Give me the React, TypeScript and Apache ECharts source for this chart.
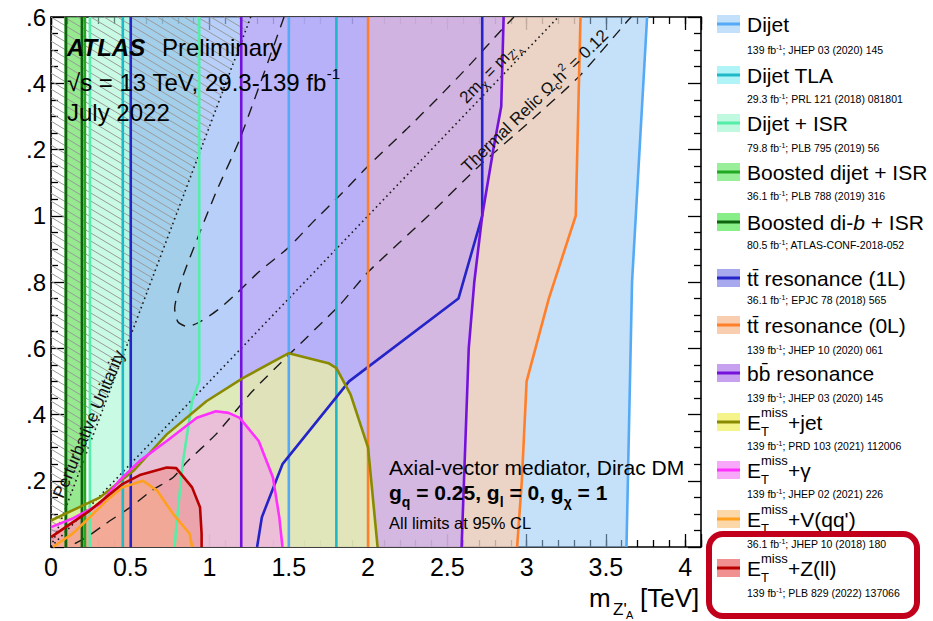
import React, { useEffect, useRef } from 'react';
import * as echarts from 'echarts';

const FONT = '"Liberation Sans", Arial, Helvetica, sans-serif';

// ---------- axes ----------
const X_MIN = 0, X_MAX = 4.1, Y_MIN = 0, Y_MAX = 1.6;
const X_MAJOR = 0.5, X_MINOR = 0.1, Y_MAJOR = 0.2;
const xTickLabels = ['0', '0.5', '1', '1.5', '2', '2.5', '3', '3.5', '4'];
// y labels as they appear (left part cropped in the original picture)
const yTickLabels = ['', '.2', '.4', '.6', '.8', '1', '.2', '.4', '.6'];

// ---------- exclusion regions (m_Z' [TeV], m_chi [TeV]) ----------
const dijetRegion = [[1.5, 0], [1.5, 1.6], [3.76, 1.6], [3.665, 0.8], [3.63, 0]];
const dijetTlaRegion = [[0.453, 0], [0.453, 1.6], [1.8, 1.6], [1.8, 0]];
const dijetIsrRegion = [[0.245, 0], [0.245, 1.6], [0.935, 1.6], [0.935, 0.5], [0.89, 0.44], [0.83, 0.25], [0.79, 0.06], [0.78, 0]];
const boostedDijetRegion = [[0.094, 0], [0.094, 1.6], [0.214, 1.6], [0.214, 0]];
const boostedDibRegion = [[0.094, 0], [0.094, 1.6], [0.195, 1.6], [0.195, 0]];
const tt1LRegion = [[0.503, 0], [0.503, 1.6], [2.72, 1.6], [2.72, 1.0], [2.57, 0.75], [1.88, 0.5], [1.46, 0.25], [1.33, 0.09], [1.3, 0]];
const tt0LRegion = [[2.0, 0], [2.0, 1.6], [3.34, 1.6], [3.31, 1.0], [3.14, 0.75], [3.0, 0.5], [2.97, 0.2], [2.94, 0]];
const bbRegion = [[1.2, 0], [1.2, 1.6], [2.855, 1.6], [2.84, 1.33], [2.79, 1.2], [2.72, 1.0], [2.67, 0.8], [2.635, 0.6], [2.62, 0.4], [2.59, 0]];
const etmissJetRegion = [[0, 0.08], [0.31, 0.15], [0.52, 0.23], [0.73, 0.34], [0.98, 0.44], [1.21, 0.51], [1.5, 0.585], [1.75, 0.555], [1.8, 0.54], [1.89, 0.46], [2.0, 0.3], [2.06, 0]];
const etmissGammaRegion = [[0, 0.06], [0.14, 0.087], [0.31, 0.13], [0.43, 0.2], [0.56, 0.26], [0.73, 0.32], [0.92, 0.39], [1.04, 0.41], [1.12, 0.405], [1.19, 0.39], [1.31, 0.32], [1.4, 0.21], [1.44, 0.09], [1.46, 0]];
const etmissVqqRegion = [[0.013, 0], [0.14, 0.042], [0.245, 0.09], [0.35, 0.14], [0.45, 0.18], [0.58, 0.2], [0.67, 0.17], [0.77, 0.1], [0.875, 0.04], [0.89, 0]];
const etmissZllRegion = [[0, 0.03], [0.245, 0.11], [0.45, 0.19], [0.56, 0.217], [0.73, 0.24], [0.79, 0.238], [0.89, 0.18], [0.94, 0.12], [0.95, 0.04], [0.95, 0]];

// ---------- reference curves ----------
const relicUpper = [[1.47, 1.6], [1.19, 1.23], [1.04, 1.07], [0.83, 0.815], [0.78, 0.72], [0.8, 0.68], [0.86, 0.665], [0.94, 0.68], [1.05, 0.715], [1.17, 0.765], [1.31, 0.83], [1.5, 0.905], [1.65, 0.98], [1.84, 1.07], [2.0, 1.15], [2.24, 1.26], [2.45, 1.36], [2.65, 1.46], [2.84, 1.56], [2.92, 1.6]];
const relicLower = [[0.15, 0.01], [0.226, 0.03], [0.35, 0.072], [0.5, 0.12], [0.635, 0.17], [0.77, 0.21], [0.855, 0.256], [1.04, 0.34], [1.27, 0.47], [1.5, 0.58], [1.82, 0.73], [2.0, 0.83], [2.38, 1.0], [2.7, 1.15], [3.01, 1.28], [3.33, 1.42], [3.64, 1.59], [3.66, 1.6]];
const kinematicLine = [[0, 0], [3.2, 1.6]];
const unitarityLine = [[0, 0], [1.26, 1.6]];

// ---------- legend ----------
const legendNames = ['Dijet', 'Dijet TLA', 'Dijet + ISR', 'Boosted dijet + ISR', 'Boosted di-{it|b} + ISR', 'tt\u0304 resonance (1L)', 'tt\u0304 resonance (0L)', 'bb\u0304 resonance', 'E_T^miss+jet', 'E_T^miss+\u03b3', "E_T^miss+V(qq')", 'E_T^miss+Z(ll)'];
const legendLumi = ['139', '29.3', '79.8', '36.1', '80.5', '36.1', '139', '139', '139', '139', '36.1', '139'];
const legendRefs = ['JHEP 03 (2020) 145', 'PRL 121 (2018) 081801', 'PLB 795 (2019) 56', 'PLB 788 (2019) 316', 'ATLAS-CONF-2018-052', 'EPJC 78 (2018) 565', 'JHEP 10 (2020) 061', 'JHEP 03 (2020) 145', 'PRD 103 (2021) 112006', 'JHEP 02 (2021) 226', 'JHEP 10 (2018) 180', 'PLB 829 (2022) 137066'];
const regions = [dijetRegion, dijetTlaRegion, dijetIsrRegion, boostedDijetRegion, boostedDibRegion, tt1LRegion, tt0LRegion, bbRegion, etmissJetRegion, etmissGammaRegion, etmissVqqRegion, etmissZllRegion];
const lineColors = ['#55aaf5', '#1fb8c8', '#55eea8', '#22a822', '#0d640d', '#2424c8', '#ff7f2a', '#7412dc', '#8a8a00', '#ff30ff', '#ffa01e', '#b80000'];
const fillColors = [
  'rgba(150,200,245,0.55)', 'rgba(170,235,250,0.5)', 'rgba(155,246,206,0.55)', 'rgba(110,225,100,0.6)',
  'rgba(110,225,100,0.3)', 'rgba(140,150,245,0.4)', 'rgba(255,205,170,0.65)', 'rgba(195,160,248,0.55)',
  'rgba(240,245,160,0.7)', 'rgba(245,150,245,0.5)', 'rgba(255,205,140,0.5)', 'rgba(240,130,120,0.45)',
];
const swatchColors = ['#c2e0fa', '#b0f4f8', '#c0f8e0', '#99ee99', '#88ee88', '#a8a8ee', '#f8cdb0', '#c8a0f0', '#f4f48a', '#f8a8f8', '#fcd8a8', '#f09090'];

// layout constants (pixels)
const LEG_Y = [24, 75, 123, 172, 222, 278, 325, 373, 422, 470, 519, 568];
const LEG_SUB_Y = [50, 99, 148, 196, 245, 300, 350, 398, 446, 494, 544, 593];

function splitEdges(pts: number[][]) {
  const out: number[][][] = [];
  let cur = [pts[0]];
  for (let i = 1; i < pts.length; i++) {
    const a = pts[i - 1], b = pts[i];
    const onFrame = (a[1] === Y_MAX && b[1] === Y_MAX) || (a[1] === Y_MIN && b[1] === Y_MIN) || (a[0] === X_MIN && b[0] === X_MIN);
    if (onFrame) {
      if (cur.length > 1) out.push(cur);
      cur = [b];
    } else cur.push(b);
  }
  if (cur.length > 1) out.push(cur);
  return out;
}

const txt = (text: string, x: number, y: number, size: number, extra: any = {}, el: any = {}) => ({
  type: 'text', x, y, z: 100, silent: true, ...el,
  style: {
    text, fontSize: size, fontFamily: FONT, fill: '#000',
    align: 'left', verticalAlign: 'middle', textAlign: 'left', textVerticalAlign: 'middle', ...extra,
  },
});

function buildGraphic() {
  const els: any[] = [];
  // header texts
  els.push(txt('ATLAS', 67, 47, 24, { fontWeight: 'bold', fontStyle: 'italic' }));
  els.push(txt('Preliminary', 162, 47, 24));
  els.push(txt('\u221as = 13 TeV, 29.3-139 fb{sup|-1}', 67, 82, 24, {
    lineHeight: 30, rich: { sup: { fontSize: 15, height: 12, verticalAlign: 'top', fontFamily: FONT, fill: '#000' } },
  }));
  els.push(txt('July 2022', 67, 112, 24));
  // model texts
  els.push(txt('Axial-vector mediator, Dirac DM', 389, 467, 21));
  els.push(txt('g{sub|q} = 0.25, g{sub|l} = 0, g{sub|\u03c7} = 1', 389, 492, 21, {
    fontWeight: 'bold', lineHeight: 32,
    rich: { sub: { fontSize: 14, height: 12, verticalAlign: 'bottom', fontWeight: 'bold', fontFamily: FONT, fill: '#000' } },
  }));
  els.push(txt('All limits at 95% CL', 389, 523, 16.5));
  // rotated curve labels
  const lblRich = {
    sub: { fontSize: 12, height: 16, verticalAlign: 'bottom', fontFamily: FONT, fill: '#111' },
    ss: { fontSize: 9, height: 8, verticalAlign: 'bottom', fontFamily: FONT, fill: '#111' },
    sup: { fontSize: 11, height: 14, verticalAlign: 'top', fontFamily: FONT, fill: '#111' },
  };
  els.push(txt("2m{sub|\u03c7} = m{sub|Z'}{ss|A}", 490, 72, 17,
    { align: 'center', textAlign: 'center', lineHeight: 26, rich: lblRich, fill: '#111' },
    { rotation: (46 * Math.PI) / 180 }));
  els.push(txt('Thermal Relic \u03a9{sub|c}h{sup|2} = 0.12', 535, 101, 17,
    { align: 'center', textAlign: 'center', lineHeight: 26, rich: lblRich, fill: '#111' },
    { rotation: (44 * Math.PI) / 180 }));
  els.push(txt('Perturbative Unitarity', 89, 424, 17,
    { align: 'center', textAlign: 'center', fill: '#111' },
    { rotation: (67 * Math.PI) / 180 }));
  // x axis title
  els.push(txt('m', 589, 598, 26));
  els.push(txt("Z'", 613, 609, 17));
  els.push(txt('A', 626, 615, 11));
  els.push(txt('[TeV]', 640, 598, 26));

  // legend
  legendNames.forEach((nm, i) => {
    const yc = LEG_Y[i];
    els.push({ type: 'rect', z: 100, silent: true, shape: { x: 717, y: yc - 9, width: 23, height: 18 }, style: { fill: swatchColors[i], stroke: 'none' } });
    els.push({ type: 'line', z: 101, silent: true, shape: { x1: 717, y1: yc, x2: 740, y2: yc }, style: { stroke: lineColors[i], lineWidth: 3 } });
    if (nm.startsWith('E_T^miss')) {
      const suffix = nm.slice('E_T^miss'.length);
      els.push(txt('E', 747, yc, 21));
      els.push(txt('miss', 761, yc - 10, 13));
      els.push(txt('T', 761, yc + 9, 13));
      els.push(txt(suffix, 788, yc, 21));
    } else {
      els.push(txt(nm, 747, yc, 21, { rich: { it: { fontSize: 21, fontStyle: 'italic', fontFamily: FONT, fill: '#000' } } }));
    }
    els.push(txt(`${legendLumi[i]} fb{sup|-1}; ${legendRefs[i]}`, 747, LEG_SUB_Y[i], 10.5, {
      lineHeight: 14, rich: { sup: { fontSize: 7, height: 8, verticalAlign: 'top', fontFamily: FONT, fill: '#000' } },
    }));
  });
  els.push({
    type: 'rect', z: 102, silent: true,
    shape: { x: 709, y: 534, width: 208, height: 82, r: 14 },
    style: { fill: 'transparent', stroke: '#c2001c', lineWidth: 6 },
  });
  return els;
}

function buildOption() {
  const tickStyle = { color: '#000', width: 1.3 };
  const baseAxis = { type: 'value', splitLine: { show: false }, axisLine: { show: true, onZero: false, lineStyle: { color: '#000', width: 1.6 } } };
  const xFmt = (v: number) => {
    const idx = Math.round(v / X_MAJOR);
    return Math.abs(v - idx * X_MAJOR) < 1e-6 && idx < xTickLabels.length ? xTickLabels[idx] : '';
  };
  const yFmt = (v: number) => {
    const idx = Math.round(v / Y_MAJOR);
    return Math.abs(v - idx * Y_MAJOR) < 1e-6 ? (yTickLabels[idx] ?? '') : '';
  };
  const xAxes = [
    { ...baseAxis, position: 'bottom', min: X_MIN, max: X_MAX, interval: X_MAJOR, axisTick: { inside: true, length: 13, lineStyle: tickStyle }, axisLabel: { color: '#000', fontSize: 25, fontFamily: FONT, margin: 7, formatter: xFmt } },
    { ...baseAxis, position: 'bottom', min: X_MIN, max: X_MAX, interval: X_MINOR, axisLine: { show: false, onZero: false }, axisTick: { inside: true, length: 7, lineStyle: tickStyle }, axisLabel: { show: false } },
    { ...baseAxis, position: 'top', min: X_MIN, max: X_MAX, interval: X_MAJOR, axisTick: { inside: true, length: 13, lineStyle: tickStyle }, axisLabel: { show: false } },
    { ...baseAxis, position: 'top', min: X_MIN, max: X_MAX, interval: X_MINOR, axisLine: { show: false, onZero: false }, axisTick: { inside: true, length: 7, lineStyle: tickStyle }, axisLabel: { show: false } },
  ];
  const yAxes = [
    { ...baseAxis, position: 'left', min: Y_MIN, max: Y_MAX, interval: Y_MAJOR, axisTick: { inside: true, length: 13, lineStyle: tickStyle }, minorTick: { show: true, splitNumber: 4, length: 7, lineStyle: tickStyle }, axisLabel: { color: '#000', fontSize: 24, fontFamily: FONT, margin: 5, formatter: yFmt } },
    { ...baseAxis, position: 'right', min: Y_MIN, max: Y_MAX, interval: Y_MAJOR, axisTick: { inside: true, length: 13, lineStyle: tickStyle }, minorTick: { show: true, splitNumber: 4, length: 7, lineStyle: tickStyle }, axisLabel: { show: false } },
  ];

  const series: any[] = [];
  regions.forEach((pts, i) => {
    series.push({
      type: 'line', name: legendNames[i] + ' area', data: pts, xAxisIndex: 0, yAxisIndex: 0,
      symbol: 'none', showSymbol: false, silent: true, z: 1,
      lineStyle: { width: 0, opacity: 0 },
      areaStyle: { color: fillColors[i], opacity: 1, origin: 'start' },
    });
  });
  // hatched perturbative-unitarity region
  series.push({
    type: 'custom', coordinateSystem: 'cartesian2d', xAxisIndex: 0, yAxisIndex: 0, z: 2, silent: true,
    data: [unitarityLine[0]],
    renderItem: (params: any, api: any) => {
      const cs = params.coordSys;
      const L = cs.x, T = cs.y, B = cs.y + cs.height;
      const a = api.coord(unitarityLine[0]);
      const b = api.coord(unitarityLine[1]);
      const k = (b[0] - a[0]) / (b[1] - a[1]);
      const s = 0.6, step = 8;
      const children: any[] = [];
      for (let c = T - s * (b[0] - L) - step; c < B; c += step) {
        let x1: number, y1: number;
        if (c >= T) { x1 = L; y1 = c; } else { x1 = L + (T - c) / s; y1 = T; }
        const x2 = (a[0] + (c - s * L - a[1]) * k) / (1 - s * k);
        const y2 = c + s * (x2 - L);
        if (x2 <= x1 + 0.5 || y2 > B) continue;
        children.push({ type: 'line', shape: { x1, y1, x2, y2 }, style: { stroke: '#9a9a9a', lineWidth: 1 } });
      }
      return { type: 'group', children };
    },
  });
  // reference curves
  const refLine = (data: number[][], type: any, width: number, smooth: number) => ({
    type: 'line', data, xAxisIndex: 0, yAxisIndex: 0, symbol: 'none', showSymbol: false, silent: true, z: 3, smooth,
    lineStyle: { color: '#1a1a1a', width, type },
  });
  series.push(refLine(relicUpper, [11, 8], 1.4, 0.2));
  series.push(refLine(relicLower, [11, 8], 1.4, 0.2));
  series.push(refLine(kinematicLine, [1.6, 3.4], 1.6, 0));
  series.push(refLine(unitarityLine, [1.6, 3.4], 1.6, 0));
  // boundaries
  regions.forEach((pts, i) => {
    splitEdges(pts).forEach((seg) => {
      series.push({
        type: 'line', data: seg, xAxisIndex: 0, yAxisIndex: 0, symbol: 'none', showSymbol: false, silent: true, z: 4,
        lineStyle: { color: lineColors[i], width: 2.6 },
      });
    });
  });

  return {
    animation: false,
    backgroundColor: '#ffffff',
    grid: { left: 51, top: 17, width: 650, height: 530, containLabel: false },
    xAxis: xAxes,
    yAxis: yAxes,
    series,
    graphic: { elements: buildGraphic() },
  };
}

export default function App() {
  const ref = useRef<HTMLDivElement>(null);
  useEffect(() => {
    if (!ref.current) return;
    const chart = echarts.init(ref.current, undefined, { renderer: 'svg' });
    chart.setOption(buildOption() as any);
    return () => chart.dispose();
  }, []);
  return <div ref={ref} style={{ position: 'absolute', left: 0, top: 0, width: 933, height: 621, background: '#fff' }} />;
}
